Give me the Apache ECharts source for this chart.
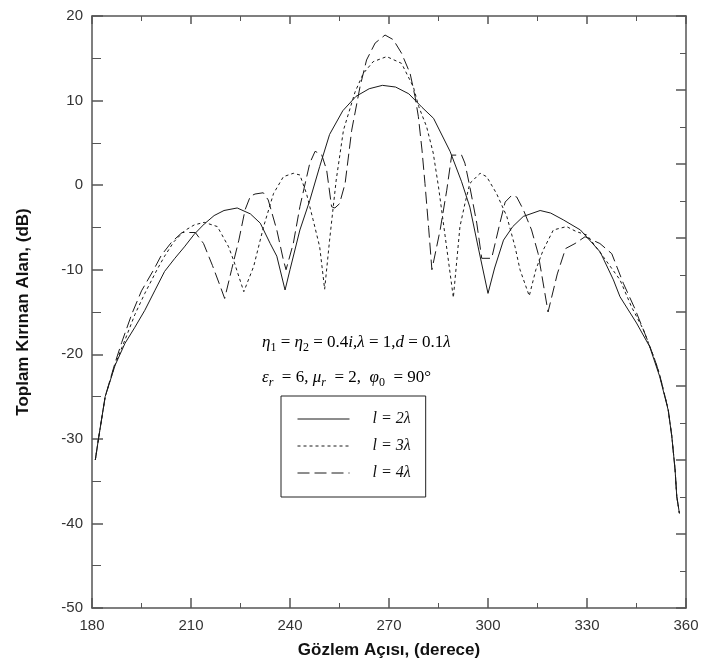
<!DOCTYPE html>
<html>
<head>
<meta charset="utf-8">
<script src="https://cdn.jsdelivr.net/npm/echarts@6/dist/echarts.min.js"></script>
<style>
  html, body { margin: 0; padding: 0; background: #fff; }
  #chart { width: 702px; height: 665px; }
</style>
</head>
<body>
<div id="chart"></div>
<script>
// Total diffracted field vs. observation angle for three strip lengths
const xTicks = { min: 180, max: 360, step: 30 };
const yTicks = { min: -50, max: 20, step: 10 };

// l = 2λ
const angles2 = [181, 182, 184, 187, 190, 193, 196, 199, 202, 205, 208, 211, 214, 217, 220, 224, 228, 231, 234, 236, 238.5, 240, 243, 246, 249, 252, 256, 260, 264, 268, 272, 276, 280, 283.5, 288.5, 292, 294.5, 297, 300, 302, 304.7, 307.5, 310.7, 315.8, 319, 322.8, 328, 334, 338, 340, 345, 349, 352, 354.6, 355.7, 356.7, 357.2, 358];
const field2 = [-32.5, -29.9, -25, -21.3, -18.7, -16.8, -14.8, -12.5, -10.2, -8.7, -7.3, -5.8, -4.6, -3.6, -3.0, -2.7, -3.4, -4.5, -6.9, -8.4, -12.4, -10, -5.3, -1.8, 2.2, 6.0, 8.8, 10.5, 11.4, 11.8, 11.6, 10.8, 9.2, 7.9, 4.0, 0.4, -2.6, -7.3, -12.8, -9.8, -6.5, -4.9, -3.7, -3.0, -3.3, -4.1, -5.3, -7.9, -11.2, -13.2, -16.3, -19.1, -22.6, -26.6, -29.7, -33.7, -36.8, -38.8];

// l = 3λ
const angles3 = [181, 182, 184, 187, 190, 193, 196, 199.7, 202, 204.8, 208, 211, 214, 218, 221.4, 223, 226, 229, 232, 235, 238, 241, 243, 245, 247, 249, 250.5, 252, 254, 256.2, 259.7, 262.2, 265.2, 269.3, 273.8, 277.4, 279, 281.4, 283.4, 285, 287, 289.5, 291.5, 293, 294.5, 297.6, 299.6, 302.6, 305.7, 308.2, 309.7, 312.5, 314.5, 316.7, 319.8, 323.8, 326.8, 330, 335, 340, 343.5, 347.1, 350.6, 352, 354.6, 355.7, 356.7, 357.2, 358];
const field3 = [-32.5, -29.9, -25, -21.2, -18.3, -15.3, -12.8, -10.0, -8.4, -6.7, -5.4, -4.7, -4.4, -4.9, -7.3, -9.0, -12.6, -9.6, -4.9, -1.0, 1.0, 1.4, 1.2, -1.0, -4.1, -7.3, -12.3, -6.5, 0.6, 6.5, 11.0, 13.2, 14.6, 15.2, 14.4, 11.6, 9.3, 6.9, 3.8, -0.2, -6.0, -13.3, -4.9, -2.2, 0.2, 1.4, 1.0, -1.0, -3.7, -7.3, -10.0, -13.1, -10.0, -7.7, -5.3, -4.9, -5.5, -5.9, -8.5, -11.2, -14.4, -17.1, -20.7, -22.4, -26.5, -29.7, -33.7, -36.8, -38.8];

// l = 4λ
const angles4 = [181, 182, 184, 187, 189, 192.1, 195, 198.7, 201, 204.2, 207.3, 211.3, 213.8, 216.5, 218.9, 220.2, 222.3, 224.5, 226.4, 228, 229.4, 231.9, 233.4, 236, 238, 238.8, 241, 243, 246, 247.6, 249.6, 251.1, 252.6, 253.6, 255, 256.7, 258.7, 261.2, 263.2, 265.8, 268.8, 271.3, 273.8, 276.4, 277.9, 278.9, 280, 280.9, 282, 283, 285.5, 287.5, 289, 292, 293, 294.5, 296.6, 298.1, 301.1, 303.6, 305.2, 307.2, 308.7, 310.7, 313.2, 315.2, 318.2, 321, 323.5, 326.4, 329.4, 333.9, 337.5, 341, 344.5, 348, 350.6, 352, 354.6, 355.7, 356.7, 357.2, 358];
const field4 = [-32.5, -29.9, -25, -21.0, -18.6, -15.2, -12.5, -10.0, -8.3, -6.7, -5.6, -5.6, -6.9, -9.5, -12.0, -13.4, -10.0, -6.5, -2.9, -1.3, -1.05, -0.9, -1.75, -5.3, -8.85, -10.0, -6.9, -2.55, 2.6, 4.0, 3.6, 1.8, -2.55, -2.7, -2.2, 0.2, 6.5, 11.6, 14.8, 16.8, 17.75, 17.2, 15.6, 13.2, 10.45, 8.1, 4.15, 0.2, -5.0, -10.0, -5.3, -0.6, 3.55, 3.55, 2.6, -0.2, -4.5, -8.65, -8.65, -4.5, -2.0, -1.2, -1.4, -2.9, -5.3, -8.1, -15.0, -10.5, -7.5, -6.9, -6.1, -6.9, -8.1, -11.6, -14.6, -18.0, -20.7, -22.4, -26.5, -29.7, -33.7, -36.8, -38.8];

const seriesNames = ['l = 2λ', 'l = 3λ', 'l = 4λ'];

const pairs = (xs, ys) => xs.map((x, i) => [x, ys[i]]);

const frameColor = '#555';
const sansFont = 'Liberation Sans, Arial, sans-serif';
const serifFont = 'Liberation Serif, Times New Roman, serif';

const chart = echarts.init(document.getElementById('chart'), null, { renderer: 'canvas' });

const lineSeries = (name, data, dash) => ({
  name: name,
  type: 'line',
  data: data,
  symbol: 'none',
  showSymbol: false,
  smooth: false,
  animation: false,
  lineStyle: { color: '#1a1a1a', width: 1, type: dash },
  itemStyle: { color: '#1a1a1a' },
  z: 3
});

// rich styles for the parameter annotations
const rich = {
  i: { fontFamily: serifFont, fontStyle: 'italic', fontSize: 17, color: '#111', lineHeight: 22, verticalAlign: 'middle' },
  n: { fontFamily: serifFont, fontSize: 17, color: '#111', lineHeight: 22, verticalAlign: 'middle' },
  s: { fontFamily: serifFont, fontSize: 12, color: '#111', lineHeight: 22, verticalAlign: 'bottom' },
  si: { fontFamily: serifFont, fontStyle: 'italic', fontSize: 12, color: '#111', lineHeight: 22, verticalAlign: 'bottom' }
};

const axisCommon = (len, minorLen) => ({
  axisLine: { show: true, onZero: false, lineStyle: { color: frameColor, width: 1.5 } },
  axisTick: { show: true, inside: true, length: len, lineStyle: { color: frameColor, width: 1.5 } },
  minorTick: { show: true, splitNumber: 2, length: minorLen, lineStyle: { color: frameColor, width: 1 } },
  splitLine: { show: false },
  minorSplitLine: { show: false }
});

const option = {
  backgroundColor: '#fff',
  animation: false,
  grid: { left: 92, right: 16, top: 16, bottom: 57, containLabel: false },
  xAxis: [
    Object.assign({
      type: 'value', position: 'bottom',
      min: xTicks.min, max: xTicks.max, interval: xTicks.step,
      name: 'Gözlem Açısı, (derece)', nameLocation: 'middle', nameGap: 34,
      nameTextStyle: { fontFamily: sansFont, fontWeight: 'bold', fontSize: 17, color: '#111' },
      axisLabel: { fontFamily: sansFont, fontSize: 15, color: '#333', margin: 10 }
    }, axisCommon(10, 5)),
    Object.assign({
      type: 'value', position: 'top',
      min: xTicks.min, max: xTicks.max, interval: xTicks.step,
      axisLabel: { show: false }
    }, axisCommon(8, 5))
  ],
  yAxis: [
    Object.assign({
      type: 'value', position: 'left',
      min: yTicks.min, max: yTicks.max, interval: yTicks.step,
      name: 'Toplam Kırınan Alan, (dB)', nameLocation: 'middle', nameGap: 60,
      nameTextStyle: { fontFamily: sansFont, fontWeight: 'bold', fontSize: 17, color: '#111' },
      axisLabel: { fontFamily: sansFont, fontSize: 15, color: '#333', margin: 9 }
    }, axisCommon(11, 9)),
    Object.assign({
      type: 'value', position: 'right',
      min: 0, max: 16, interval: 2,
      axisLabel: { show: false }
    }, axisCommon(10, 6))
  ],
  legend: {
    orient: 'vertical',
    left: 281, top: 396,
    data: seriesNames,
    itemWidth: 52, itemHeight: 14, itemGap: 11,
    padding: [15, 15, 16, 16],
    borderColor: '#222', borderWidth: 1,
    backgroundColor: '#fff',
    selectedMode: false,
    itemStyle: { opacity: 0 },
    lineStyle: { width: 1 },
    textStyle: { fontFamily: serifFont, fontStyle: 'italic', fontSize: 16, color: '#111', padding: [0, 0, 0, 18] }
  },
  series: [
    lineSeries(seriesNames[0], pairs(angles2, field2), 'solid'),
    lineSeries(seriesNames[1], pairs(angles3, field3), [3, 3]),
    lineSeries(seriesNames[2], pairs(angles4, field4), [12, 5])
  ],
  graphic: [
    {
      type: 'text', left: 262, top: 334, z: 10,
      style: {
        text: '{i|η}{s|1}{n| = }{i|η}{s|2}{n| = 0.4}{i|i}{n|,}{i|λ}{n| = 1,}{i|d}{n| = 0.1}{i|λ}',
        rich: rich
      }
    },
    {
      type: 'text', left: 262, top: 369, z: 10,
      style: {
        text: '{i|ε}{si|r}{n|  = 6, }{i|μ}{si|r}{n|  = 2,  }{i|φ}{s|0}{n|  = 90°}',
        rich: rich
      }
    }
  ]
};

chart.setOption(option);
</script>
</body>
</html>
